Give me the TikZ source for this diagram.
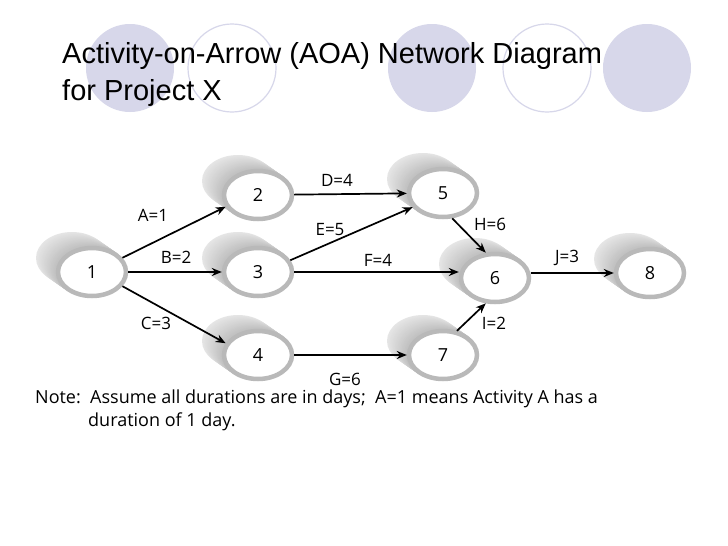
\documentclass[tikz,border=0pt]{standalone}
\usepackage{fontspec}
\setmainfont{Liberation Sans}
\newfontfamily\notefont{Open Sans}
\usetikzlibrary{shapes.geometric,arrows.meta}
\definecolor{lav}{HTML}{D7D7EA}
\tikzset{
  ev/.style={ellipse,minimum width=72pt,minimum height=52pt,inner sep=0pt,font=\notefont\fontsize{18}{18}\selectfont},
  act/.style={-{Stealth[length=10pt,width=8pt]},line width=1.7pt,black},
  lbl/.style={font=\notefont\fontsize{17}{17}\selectfont},
}
\newcommand{\cyl}[2]{%
  \foreach \k in {0,...,14}{\fill[gray!\the\numexpr 20+\k*2\relax] (#1-20+\k*1.33,#2-14+\k*0.93) ellipse (36pt and 26pt);}%
  \fill[white,draw=gray!55,line width=4.5pt] (#1,#2) ellipse (34pt and 24pt);}
\begin{document}
\begin{tikzpicture}[x=1pt,y=-1pt]
\useasboundingbox (0,0) rectangle (728,546);
\fill[white] (0,0) rectangle (728,546);
% decorative circles
\fill[lav] (130,68) circle (44);
\draw[lav,line width=1.2pt] (232,68) circle (44);
\fill[lav] (432,68) circle (44);
\draw[lav,line width=1.2pt] (547,68) circle (44);
\fill[lav] (647,68) circle (44);
\node[anchor=base west,font=\fontsize{29}{37}\selectfont,align=left,inner sep=0pt] (title) at (62,100) {Activity-on-Arrow (AOA) Network Diagram\\for Project X};
% events
\cyl{92}{272}\cyl{258}{195}\cyl{258}{272}\cyl{258}{355}
\cyl{443}{193}\cyl{495}{278}\cyl{443}{355}\cyl{650}{273}
\node[ev] (n1) at (92,272) {1};
\node[ev] (n2) at (258,195) {2};
\node[ev] (n3) at (258,272) {3};
\node[ev] (n4) at (258,355) {4};
\node[ev] (n5) at (443,193) {5};
\node[ev] (n6) at (495,278) {6};
\node[ev] (n7) at (443,355) {7};
\node[ev] (n8) at (650,273) {8};
% activities
\draw[act] (n1.25) -- (n2.200);
\draw[act] (n1) -- (n3);
\draw[act] (n1.-25) -- (n4.160);
\draw[act] (n2) -- (n5);
\draw[act] (n3.20) -- (n5.205);
\draw[act] (n3.east) -- (n3.east -| n6.west);
\draw[act] (n4) -- (n7);
\draw[act] (n5.-70) -- (n6.110);
\draw[act] (n7.60) -- (n6.-110);
\draw[act] (n8.west -| n6.east) -- (n8.west);
\node[lbl] (la) at (153,215) {A=1};
\node[lbl] (lb) at (176,257) {B=2};
\node[lbl] (lc) at (156,323) {C=3};
\node[lbl] (ld) at (337,180) {D=4};
\node[lbl] (le) at (330,230) {E=5};
\node[lbl] (lf) at (378,260) {F=4};
\node[lbl] (lg) at (345,379) {G=6};
\node[lbl] (lh) at (490,224) {H=6};
\node[lbl] (li) at (494,323) {I=2};
\node[lbl] (lj) at (567,258) {J=3};
\node[anchor=base west,inner sep=0pt,font=\notefont\fontsize{18}{23}\selectfont] (note) at (35,403) {Note:\ \ Assume all durations are in days;\ \ A=1 means Activity A has a};
\node[anchor=base west,inner sep=0pt,font=\notefont\fontsize{18}{23}\selectfont] (note2) at (88,426) {duration of 1 day.};
\end{tikzpicture}
\end{document}
